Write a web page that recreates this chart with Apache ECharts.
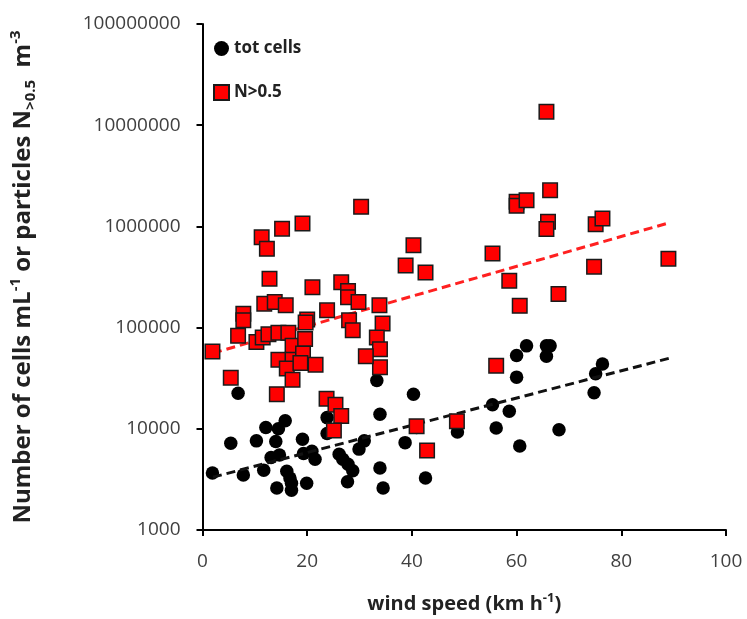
<!DOCTYPE html>
<html>
<head>
    <meta charset="UTF-8">
    <title>wind speed</title>
    <script src="https://cdn.jsdelivr.net/npm/echarts@6/dist/echarts.min.js"></script>
    <style>
        body { margin: 0; background: #fff; }
        #main { width: 747px; height: 619px; }
    </style>
</head>
<body>
<div id="main"></div>
<script type="text/javascript">
    // tot cells (cells mL-1) vs wind speed
    var cellsData = [
        [6.8, 22500], [33.3, 30000], [40.3, 21900], [33.9, 13900], [23.8, 12900], [23.8, 9000],
        [15.8, 12000], [14.5, 10000], [12.1, 10300], [5.4, 7200], [10.3, 7600], [14.0, 7500],
        [19.1, 7900], [13.1, 5200], [14.7, 5500], [19.3, 5700], [21.5, 5000], [20.9, 6000],
        [26.1, 5600], [26.8, 5000], [27.8, 4470], [28.7, 3850], [29.9, 6300], [30.9, 7600],
        [38.7, 7300], [1.9, 3650], [7.8, 3500], [11.7, 3900], [16.1, 3800], [16.7, 3260],
        [17.0, 2900], [14.2, 2600], [17.0, 2470], [19.9, 2900], [27.7, 3000], [33.9, 4100],
        [34.5, 2600], [42.6, 3260], [40.9, 10300], [48.7, 9300],
        [61.9, 66000], [65.7, 66000], [66.4, 66000], [60.0, 53000], [65.7, 52000], [60.0, 32400],
        [76.4, 43600], [75.1, 35000], [74.8, 22700], [55.4, 17300], [58.6, 14900], [56.1, 10200],
        [68.1, 9800], [60.6, 6760]
    ];
    // particles N>0.5 (m-3) vs wind speed
    var particleData = [
        [1.9, 58000], [5.4, 32000], [6.8, 83000], [7.8, 137000], [7.8, 118000], [10.3, 72000],
        [11.5, 80000], [12.6, 86000], [14.5, 89000], [16.4, 89000], [17.2, 66000], [19.6, 77000],
        [20.0, 120000], [19.7, 112000], [14.5, 48000], [17.2, 48000], [16.1, 39500], [19.2, 55500],
        [18.7, 44800], [21.6, 43000], [17.2, 30500], [14.2, 22000], [11.8, 172000], [13.8, 179000],
        [15.9, 166000], [12.8, 304000], [11.3, 780000], [12.3, 600000], [15.2, 950000], [19.1, 1070000],
        [30.3, 1560000], [21.0, 250000], [23.8, 148000], [26.5, 280000], [27.8, 230000], [27.8, 200000],
        [29.8, 179000], [33.8, 166000], [34.4, 110000], [28.0, 118000], [28.7, 94000], [33.3, 80000],
        [33.9, 61000], [33.9, 40500], [31.2, 52000], [23.7, 19800], [25.4, 17300], [26.5, 13400],
        [25.1, 9600], [40.3, 650000], [38.8, 410000], [42.6, 350000], [40.9, 10600], [42.9, 6100],
        [48.6, 11900],
        [65.7, 13600000], [66.4, 2270000], [60.0, 1750000], [60.0, 1600000], [61.9, 1810000],
        [66.0, 1110000], [65.7, 940000], [75.1, 1050000], [76.4, 1200000], [55.4, 540000],
        [89.0, 480000], [74.8, 400000], [58.6, 290000], [68.0, 215000], [60.6, 164000], [56.1, 42000]
    ];
    // trend lines (end points)
    var cellsTrend = [[2, 3330], [89.3, 50000]];
    var particleTrend = [[2, 56000], [89, 1080000]];

    var xTicks = [0, 20, 40, 60, 80, 100];
    var yTickLabels = ['1000', '10000', '100000', '1000000', '10000000', '100000000'];

    var font = 'Open Sans';
    var myChart = echarts.init(document.getElementById('main'));
    var option = {
        animation: false,
        textStyle: { fontFamily: font },
        grid: { left: 202.5, right: 21, top: 24, bottom: 85 },
        legend: {
            orient: 'vertical',
            left: 208,
            top: 35,
            itemGap: 27,
            itemWidth: 15,
            itemHeight: 15,
            textStyle: { fontFamily: font, fontWeight: 'bold', fontSize: 17, color: '#222' },
            data: [
                { name: 'tot cells', icon: 'circle' },
                { name: 'N>0.5', icon: 'rect' }
            ]
        },
        xAxis: {
            type: 'value',
            min: xTicks[0],
            max: xTicks[xTicks.length - 1],
            interval: 20,
            splitLine: { show: false },
            axisLine: { lineStyle: { color: '#000', width: 2 } },
            axisTick: { length: 6, lineStyle: { color: '#000', width: 2 } },
            axisLabel: { fontFamily: font, fontSize: 19, color: '#404040', margin: 22 },
            name: '{b|wind speed (km h}{sup|-1}{b|)}',
            nameLocation: 'middle',
            nameGap: 62,
            nameTextStyle: {
                rich: {
                    b: { fontFamily: font, fontWeight: 'bold', fontSize: 20, color: '#222', lineHeight: 24 },
                    sup: { fontFamily: font, fontWeight: 'bold', fontSize: 13, color: '#222', lineHeight: 14, verticalAlign: 'top' }
                }
            }
        },
        yAxis: {
            type: 'log',
            logBase: 10,
            min: 1000,
            max: 100000000,
            splitLine: { show: false },
            minorTick: { show: false },
            axisLine: { lineStyle: { color: '#000', width: 2 } },
            axisTick: { length: 6, lineStyle: { color: '#000', width: 2 } },
            axisLabel: {
                fontFamily: font, fontSize: 19, color: '#404040', margin: 22,
                formatter: function (v) {
                    var i = Math.round(Math.log10(v)) - 3;
                    return yTickLabels[i] || '';
                }
            },
            name: '{b|Number of cells mL}{sup|-1}{b| or particles N}{sub|>0.5}{b|  m}{sup|-3}',
            nameLocation: 'middle',
            nameGap: 164,
            nameRotate: 90,
            nameTextStyle: {
                rich: {
                    b: { fontFamily: font, fontWeight: 'bold', fontSize: 24, color: '#222', lineHeight: 30 },
                    sup: { fontFamily: font, fontWeight: 'bold', fontSize: 15, color: '#222', lineHeight: 16, verticalAlign: 'top' },
                    sub: { fontFamily: font, fontWeight: 'bold', fontSize: 15, color: '#222', lineHeight: 16, verticalAlign: 'bottom' }
                }
            }
        },
        series: [
            {
                name: 'tot cells',
                type: 'scatter',
                symbol: 'circle',
                symbolSize: 13.5,
                itemStyle: { color: '#000', opacity: 1 },
                data: cellsData,
                z: 2
            },
            {
                name: 'cells trend',
                type: 'line',
                data: cellsTrend,
                showSymbol: false,
                symbol: 'none',
                lineStyle: { color: '#111', width: 3, type: [9, 5] },
                z: 3
            },
            {
                name: 'N>0.5',
                type: 'scatter',
                symbol: 'rect',
                symbolSize: 14.5,
                itemStyle: { color: '#ff0000', borderColor: '#1a1a1a', borderWidth: 1.5, opacity: 1 },
                data: particleData,
                z: 4
            },
            {
                name: 'particle trend',
                type: 'line',
                data: particleTrend,
                showSymbol: false,
                symbol: 'none',
                lineStyle: { color: '#ff2020', width: 3, type: [9, 5] },
                z: 3
            }
        ]
    };
    myChart.setOption(option);
</script>
</body>
</html>
